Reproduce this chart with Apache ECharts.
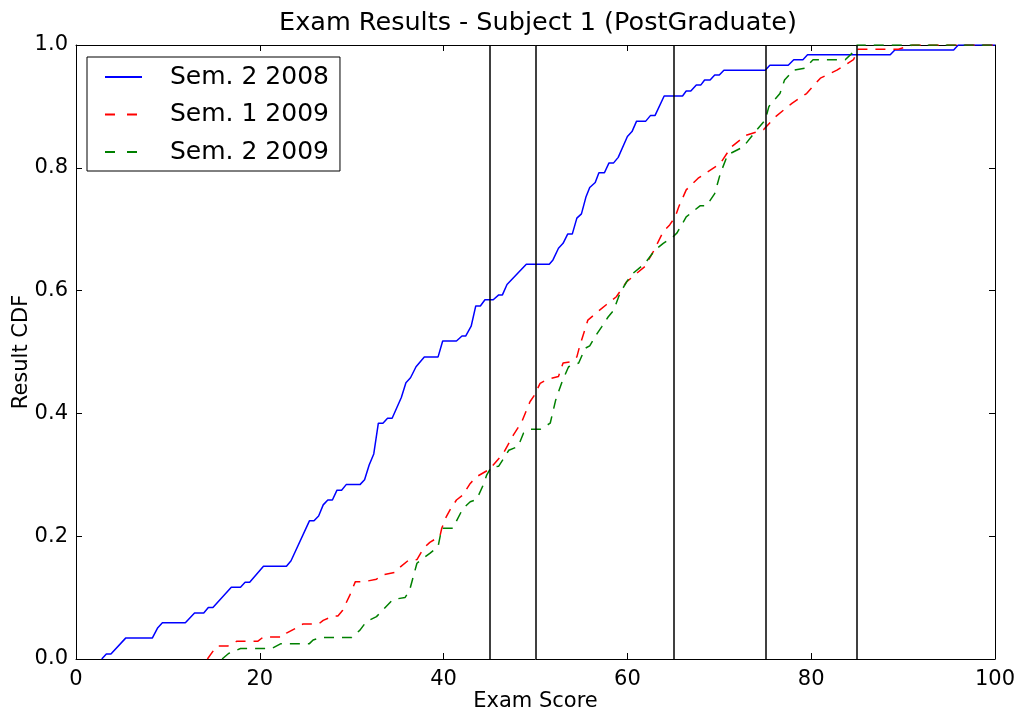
<!DOCTYPE html>
<html>
<head>
<meta charset="utf-8">
<title>Exam Results - Subject 1 (PostGraduate)</title>
<script src="https://cdn.jsdelivr.net/npm/echarts@6/dist/echarts.min.js"></script>
<style>
  html, body { margin: 0; padding: 0; background: #fff; }
  #chart { width: 1024px; height: 711px; }
</style>
</head>
<body>
<div id="chart"></div>
<script>
// values (exam score, cumulative fraction)
var sem2_2008_x = [2.8, 3.3, 3.8, 5.4, 8.3, 8.9, 9.4, 11.9, 12.9, 13.9, 14.4, 14.9, 16.9, 17.9, 18.4, 18.9, 20.4, 22.9, 23.4, 25.4,
  25.9, 26.4, 26.9, 27.4, 27.9, 28.4, 28.9, 29.4, 30.9, 31.4, 31.9, 32.4, 32.9, 33.4, 33.9, 34.4, 35.4, 35.9, 36.4, 37.0,
  37.9, 39.4, 39.9, 41.4, 42.0, 42.4, 43.0, 43.5, 44.0, 44.5, 45.4, 46.0, 46.4, 46.9, 49.0, 51.5, 51.9, 52.5, 53.0, 53.5,
  54.0, 54.5, 55.0, 55.5, 55.9, 56.5, 56.9, 57.5, 58.0, 58.5, 59.0, 60.0, 60.5, 61.0, 62.0, 62.5, 63.0, 64.0, 66.0, 66.4,
  66.9, 67.5, 68.0, 68.4, 69.0, 69.5, 70.0, 70.5, 75.0, 75.5, 77.5, 78.1, 79.1, 79.6, 88.6, 89.1, 95.5, 96.0, 100];
var sem2_2008_y = [0, 0.008, 0.008, 0.034, 0.034, 0.051, 0.059, 0.059, 0.075, 0.075, 0.084, 0.084, 0.117, 0.117, 0.125, 0.125, 0.151, 0.151, 0.16, 0.225,
  0.225, 0.233, 0.251, 0.259, 0.259, 0.275, 0.275, 0.284, 0.284, 0.292, 0.316, 0.334, 0.384, 0.384, 0.392, 0.392, 0.426, 0.45, 0.458, 0.476,
  0.492, 0.492, 0.518, 0.518, 0.526, 0.526, 0.542, 0.575, 0.575, 0.585, 0.585, 0.593, 0.593, 0.61, 0.643, 0.643, 0.65, 0.669, 0.677, 0.692,
  0.692, 0.718, 0.725, 0.753, 0.768, 0.776, 0.792, 0.792, 0.808, 0.808, 0.817, 0.851, 0.859, 0.876, 0.876, 0.885, 0.885, 0.917, 0.917, 0.925,
  0.925, 0.935, 0.935, 0.943, 0.943, 0.951, 0.951, 0.959, 0.959, 0.967, 0.967, 0.976, 0.976, 0.984, 0.984, 0.992, 0.992, 1.0, 1.0];

var sem1_2009_x = [14.3, 15.3, 16.5, 17.5, 19.8, 20.4, 22.6, 22.9, 23.9, 24.7, 26.4, 26.9, 28.0, 28.5, 29.0, 29.8, 30.4, 31.4, 32.7, 33.3,
  34.7, 35.3, 36.2, 37.1, 37.8, 38.5, 39.6, 39.8, 40.3, 40.7, 41.4, 42.1, 42.9, 43.6, 45.0, 46.5, 47.6, 48.5, 49.4, 49.9,
  50.5, 51.2, 52.5, 53.0, 53.8, 54.5, 54.8, 55.7, 56.8, 57.7, 58.8, 59.9, 61.0, 61.9, 62.8, 63.9, 64.6, 65.2, 65.6, 66.4,
  67.7, 70.1, 71.3, 72.9, 74.8, 76.1, 77.9, 79.5, 81.0, 82.8, 84.6, 85.1, 89.5, 91.0, 100];
var sem1_2009_y = [0, 0.021, 0.021, 0.029, 0.029, 0.036, 0.036, 0.042, 0.05, 0.057, 0.057, 0.063, 0.07, 0.07, 0.079, 0.104, 0.126, 0.126, 0.13, 0.137,
  0.141, 0.15, 0.161, 0.162, 0.18, 0.19, 0.2, 0.213, 0.232, 0.243, 0.259, 0.267, 0.286, 0.297, 0.309, 0.335, 0.365, 0.386, 0.419, 0.43,
  0.449, 0.455, 0.46, 0.482, 0.484, 0.492, 0.509, 0.552, 0.566, 0.577, 0.59, 0.614, 0.628, 0.639, 0.663, 0.696, 0.707, 0.72, 0.737, 0.764,
  0.783, 0.807, 0.834, 0.853, 0.862, 0.883, 0.905, 0.921, 0.946, 0.959, 0.976, 0.993, 0.993, 1.0, 1.0];

var sem2_2009_x = [15.9, 16.6, 17.9, 21.3, 22.3, 25.4, 25.8, 26.7, 30.0, 30.9, 31.6, 32.7, 33.4, 34.5, 35.8, 36.3, 36.7, 37.1, 37.6, 38.5,
  39.4, 39.8, 41.0, 42.1, 42.9, 43.6, 44.3, 44.7, 45.2, 46.0, 47.1, 48.1, 48.7, 49.4, 50.5, 51.6, 52.2, 52.9, 53.6, 54.7,
  55.4, 55.9, 56.7, 57.2, 57.9, 58.5, 59.2, 59.9, 60.6, 61.9, 63.0, 63.9, 65.0, 65.4, 66.4, 67.9, 68.6, 69.5, 70.1, 70.9,
  72.6, 74.1, 75.0, 75.4, 76.6, 77.1, 78.1, 79.3, 80.2, 83.7, 84.4, 85.0, 100];
var sem2_2009_y = [0, 0.009, 0.017, 0.017, 0.025, 0.025, 0.031, 0.035, 0.035, 0.047, 0.061, 0.069, 0.08, 0.097, 0.1, 0.112, 0.134, 0.156, 0.162, 0.172,
  0.183, 0.213, 0.213, 0.245, 0.256, 0.26, 0.283, 0.3, 0.313, 0.314, 0.34, 0.346, 0.368, 0.374, 0.374, 0.384, 0.422, 0.452, 0.476, 0.482,
  0.506, 0.51, 0.53, 0.541, 0.557, 0.568, 0.596, 0.614, 0.628, 0.644, 0.666, 0.677, 0.688, 0.694, 0.72, 0.738, 0.738, 0.758, 0.79, 0.821,
  0.834, 0.862, 0.878, 0.9, 0.921, 0.943, 0.959, 0.962, 0.976, 0.976, 0.986, 1.0, 1.0];

var cutScores = [45, 50, 65, 75, 85];
var seriesNames = ['Sem. 2 2008', 'Sem. 1 2009', 'Sem. 2 2009'];

function zip(xs, ys) {
  var out = [];
  for (var i = 0; i < xs.length; i++) out.push([xs[i], ys[i]]);
  return out;
}

var font = 'DejaVu Sans';
var black = '#000';

var myChart = echarts.init(document.getElementById('chart'), null, { renderer: 'canvas' });

function frameAxis(extra) {
  return Object.assign({
    type: 'value',
    axisLine: { show: true, onZero: false, lineStyle: { color: black, width: 1 } },
    axisTick: { show: true, inside: true, length: 6, lineStyle: { color: black, width: 1 } },
    splitLine: { show: false }
  }, extra);
}

myChart.setOption({
  animation: false,
  backgroundColor: '#fff',
  title: {
    text: 'Exam Results - Subject 1 (PostGraduate)',
    left: 533,
    textAlign: 'center',
    top: 5,
    textStyle: { fontFamily: font, fontSize: 25.5, fontWeight: 'normal', color: black }
  },
  grid: { left: 76, right: 29, top: 45, bottom: 52, containLabel: false, outerBoundsMode: 'none' },
  legend: {
    data: [
      { name: seriesNames[0] },
      { name: seriesNames[1], lineStyle: { type: [10, 12] } },
      { name: seriesNames[2], lineStyle: { type: [10, 12] } }
    ],
    orient: 'vertical',
    left: 87,
    top: 57,
    padding: [7, 11, 6, 17],
    itemWidth: 37,
    itemHeight: 26,
    itemGap: 11.5,
    borderColor: black,
    borderWidth: 1,
    backgroundColor: '#fff',
    itemStyle: { opacity: 0 },
    textStyle: { fontFamily: font, fontSize: 25, lineHeight: 26, color: black, padding: [0, 0, 0, 23] }
  },
  xAxis: [
    frameAxis({
      min: 0, max: 100, interval: 20,
      position: 'bottom',
      name: 'Exam Score',
      nameLocation: 'middle',
      nameGap: 32,
      nameMoveOverlap: false,
      nameTextStyle: { fontFamily: font, fontSize: 21, color: black },
      axisLabel: { fontFamily: font, fontSize: 21, color: black, margin: 10 }
    }),
    frameAxis({
      min: 0, max: 100, interval: 20,
      position: 'top',
      axisLabel: { show: false }
    })
  ],
  yAxis: [
    frameAxis({
      min: 0, max: 1, interval: 0.2,
      position: 'left',
      name: 'Result CDF',
      nameLocation: 'middle',
      nameGap: 44,
      nameMoveOverlap: false,
      nameTextStyle: { fontFamily: font, fontSize: 21, color: black },
      axisLabel: {
        fontFamily: font, fontSize: 21, color: black, margin: 8,
        formatter: function (v) { return v.toFixed(1); }
      }
    }),
    frameAxis({
      min: 0, max: 1, interval: 0.2,
      position: 'right',
      axisLabel: { show: false }
    })
  ],
  series: [
    {
      name: seriesNames[0],
      type: 'line',
      data: zip(sem2_2008_x, sem2_2008_y),
      symbol: 'none',
      z: 3,
      lineStyle: { color: '#0000ff', width: 1.5, type: 'solid' },
      itemStyle: { color: '#0000ff' }
    },
    {
      name: seriesNames[1],
      type: 'line',
      data: zip(sem1_2009_x, sem1_2009_y),
      symbol: 'none',
      z: 3,
      lineStyle: { color: '#ff0000', width: 1.5, type: [10, 8] },
      itemStyle: { color: '#ff0000' }
    },
    {
      name: seriesNames[2],
      type: 'line',
      data: zip(sem2_2009_x, sem2_2009_y),
      symbol: 'none',
      z: 3,
      lineStyle: { color: '#008000', width: 1.5, type: [10, 8] },
      itemStyle: { color: '#008000' }
    },
    {
      name: 'cuts',
      type: 'line',
      data: [],
      z: 4,
      markLine: {
        silent: true,
        symbol: ['none', 'none'],
        label: { show: false },
        lineStyle: { color: black, width: 1.5, type: 'solid' },
        data: cutScores.map(function (c) { return { xAxis: c }; })
      }
    }
  ]
});
</script>
</body>
</html>
